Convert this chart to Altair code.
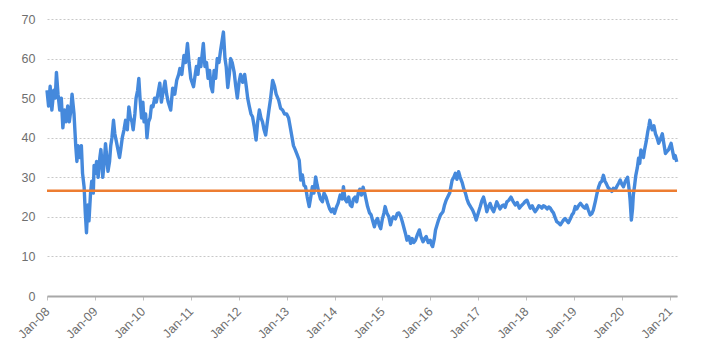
import altair as alt
import pandas as pd

# ---- data ----
d2008 = ["2008-01-01","2008-01-13","2008-01-25","2008-02-07","2008-02-22","2008-03-04","2008-03-13","2008-03-25",
         "2008-04-07","2008-04-19","2008-05-01","2008-05-13","2008-05-25","2008-06-07","2008-06-19","2008-07-01",
         "2008-07-10","2008-07-25","2008-08-07","2008-08-16","2008-08-25","2008-09-07","2008-09-19","2008-09-28",
         "2008-10-10","2008-10-19","2008-10-28","2008-11-07","2008-11-16","2008-11-28","2008-12-07","2008-12-19","2008-12-25"]
v2008 = [52,48,53,47,52,50,56.5,51,47,50,42.5,47,44,48,44,47,51,46,38,34,38,35,38,31,27.5,21,16,23,19,26,29,26,33]

d2009 = ["2009-01-04","2009-01-13","2009-01-25","2009-02-07","2009-02-15","2009-02-24","2009-03-01","2009-03-13",
         "2009-03-22","2009-04-01","2009-04-10","2009-04-22","2009-05-01","2009-05-10","2009-05-22","2009-06-01",
         "2009-06-13","2009-06-25","2009-07-07","2009-07-16","2009-07-28","2009-08-10","2009-08-22","2009-09-04",
         "2009-09-16","2009-09-28","2009-10-10","2009-10-19","2009-11-01","2009-11-10","2009-11-22","2009-12-01",
         "2009-12-10","2009-12-22"]
v2009 = [31,34,30,35,37,33,30,34,38.5,35,31.5,34,38,40,44.4,41,39,37,35,37,40,42,44.4,42,47.8,45,44,42,46,50,52,55,50,45]

d2010 = ["2010-01-01","2010-01-10","2010-01-22","2010-02-01","2010-02-13","2010-02-25","2010-03-07","2010-03-19",
         "2010-04-01","2010-04-13","2010-04-25","2010-05-10","2010-05-22","2010-06-01","2010-06-19","2010-07-01",
         "2010-07-13","2010-08-01","2010-08-16","2010-09-01","2010-09-16","2010-10-01","2010-10-10","2010-10-25",
         "2010-11-10","2010-11-22","2010-12-07","2010-12-19"]
v2010 = [49,44,46,40,44,45,48,47.8,50,49,51,53.8,49,51,54.3,51,49,47,52.5,51,54.5,56,57.5,56,60.8,59,63.8,59]

d2011 = ["2011-01-01","2011-01-22","2011-02-04","2011-02-13","2011-02-25","2011-03-07","2011-03-19","2011-04-07",
         "2011-04-19","2011-05-01","2011-05-13","2011-05-25","2011-06-04","2011-06-16","2011-06-28","2011-07-10",
         "2011-07-22","2011-08-04","2011-08-16","2011-09-07","2011-09-19","2011-09-28","2011-10-10","2011-10-22",
         "2011-11-01","2011-11-13","2011-11-28","2011-12-10","2011-12-22"]
v2011 = [55,52.9,56,58,56,60,58,63.8,58,59,55,57,53,51.6,57,55,60,59,62,66.7,60,58,52.7,56,60,59,56.5,53,50]

d2012 = ["2012-01-04","2012-01-16","2012-02-01","2012-02-16","2012-02-28","2012-03-10","2012-03-22","2012-04-04",
         "2012-04-16","2012-04-28","2012-05-13","2012-05-25","2012-06-07","2012-06-19","2012-07-01","2012-07-13",
         "2012-07-25","2012-08-07","2012-08-19","2012-09-01","2012-09-16","2012-10-01","2012-10-13","2012-11-01",
         "2012-11-16","2012-12-01","2012-12-16"]
v2012 = [54,56,54,56,53,50,48,46,45.3,43,39.4,44,47,45,44,42,40.7,44,47,50,54.5,53,51,49.5,47.4,47,46]

d2013 = ["2013-01-01","2013-01-16","2013-02-01","2013-02-22","2013-03-07","2013-03-19","2013-04-07","2013-04-19",
         "2013-05-01","2013-05-13","2013-05-25","2013-06-07","2013-06-22","2013-07-04","2013-07-16","2013-07-28",
         "2013-08-10","2013-08-22","2013-09-04","2013-09-16","2013-10-01","2013-10-13","2013-10-28","2013-11-10",
         "2013-11-25","2013-12-07","2013-12-19"]
v2013 = [46,45,42,38,37,36,34.3,29.3,30.6,28,27.6,25,22.6,25,27.6,26,30.1,28,26,24.5,23.8,26,25,23.5,22,21.3,22]

d2014 = ["2014-01-01","2014-01-16","2014-01-28","2014-02-13","2014-02-28","2014-03-10","2014-03-22","2014-04-04",
         "2014-04-19","2014-05-01","2014-05-13","2014-05-25","2014-06-07","2014-06-19","2014-07-01","2014-07-13",
         "2014-07-25","2014-08-07","2014-08-19","2014-09-01","2014-09-10","2014-09-25","2014-10-07","2014-10-19",
         "2014-11-01","2014-11-13","2014-11-25","2014-12-07","2014-12-19"]
v2014 = [20.9,22.5,23.4,25.5,24.5,27.6,24.5,23.8,25,23,22.6,24.5,25,23.8,26,27,25.5,27.5,26,24,22.6,21,20.5,19,
         17.5,19,19.6,18,17]

d2015 = ["2015-01-01","2015-01-13","2015-01-22","2015-02-04","2015-02-19","2015-03-04","2015-03-16","2015-03-25",
         "2015-04-10","2015-04-25","2015-05-07","2015-05-22","2015-06-04","2015-06-16","2015-06-28","2015-07-07",
         "2015-07-22","2015-08-04","2015-08-16","2015-08-28","2015-09-10","2015-09-25","2015-10-10","2015-10-22",
         "2015-11-07","2015-11-19","2015-12-01","2015-12-16"]
v2015 = [19.5,21,22.6,21,20,18,19.5,20,19.5,20.9,21,20,18.5,17,15.5,14.1,15,13.3,14.5,13.5,14.1,15.5,16.7,15,
         13.7,14.5,15,13.5]

d2016 = ["2016-01-01","2016-01-10","2016-01-19","2016-02-01","2016-02-10","2016-02-22","2016-03-04","2016-03-19",
         "2016-04-07","2016-04-19","2016-05-01","2016-05-13","2016-05-28","2016-06-16","2016-06-28","2016-07-10",
         "2016-07-22","2016-08-04","2016-08-16","2016-09-01","2016-09-13","2016-09-25","2016-10-07","2016-10-19",
         "2016-11-04","2016-11-19","2016-12-04","2016-12-16"]
v2016 = [14.1,13,12.5,14.5,16.7,18,19.2,20.5,21.3,23,24.2,25,26,29.3,30,31,29.5,31.4,30,28.6,27,26,24.5,23.4,
         22.5,21.7,20.5,19.2]

d2017 = ["2017-01-01","2017-01-16","2017-01-28","2017-02-10","2017-02-25","2017-03-07","2017-03-19","2017-04-01",
         "2017-04-16","2017-04-28","2017-05-10","2017-05-22","2017-06-04","2017-06-16","2017-07-01","2017-07-13",
         "2017-07-25","2017-08-07","2017-08-22","2017-09-07","2017-09-22","2017-10-10","2017-10-25","2017-11-10",
         "2017-11-25","2017-12-13","2017-12-25"]
v2017 = [21,22.6,24,25,23,21.3,22.5,23.4,22,21.3,22.5,23.8,22.8,22,22.8,23,22.4,23.8,24.2,25,24,23,23.6,22.2,
         22.8,23.4,23.9]

d2018 = ["2018-01-07","2018-01-19","2018-02-01","2018-02-16","2018-03-01","2018-03-10","2018-03-25","2018-04-07",
         "2018-04-19","2018-05-01","2018-05-13","2018-05-25","2018-06-10","2018-06-22","2018-07-04","2018-07-16",
         "2018-07-28","2018-08-10","2018-08-22","2018-09-07","2018-09-19","2018-10-01","2018-10-13","2018-10-25",
         "2018-11-07","2018-11-19","2018-12-04","2018-12-16","2018-12-28"]
v2018 = [24.2,23.2,22.2,22.8,21.8,21.3,22,22.8,22.6,22.2,22.8,22.6,22,22.5,22.2,21.5,21,19.8,18.8,18.4,18,18.6,
         19.2,19.6,19,18.5,19.5,20.5,21]

d2019 = ["2019-01-10","2019-01-22","2019-02-04","2019-02-19","2019-03-01","2019-03-13","2019-03-25","2019-04-07",
         "2019-04-19","2019-05-04","2019-05-16","2019-05-28","2019-06-13","2019-06-25","2019-07-07","2019-07-19",
         "2019-08-01","2019-08-13","2019-08-25","2019-09-04","2019-09-16","2019-10-01","2019-10-16","2019-10-28",
         "2019-11-13","2019-11-25","2019-12-07","2019-12-19"]
v2019 = [22.6,22,22.8,23.4,23,22.5,22.2,23,21.8,20.5,20.8,21.7,24,25.9,27.5,28.6,29,30.5,29,28.4,27.5,27,26.4,
         27.2,27,27.8,28.5,29.3]

d2020 = ["2020-01-01","2020-01-13","2020-01-25","2020-02-04","2020-02-13","2020-02-25","2020-03-04","2020-03-13",
         "2020-03-22","2020-03-28","2020-04-07","2020-04-16","2020-04-28","2020-05-07","2020-05-16","2020-05-25",
         "2020-06-04","2020-06-13","2020-06-22","2020-07-04","2020-07-16","2020-07-25","2020-08-01","2020-08-10",
         "2020-08-19","2020-09-01","2020-09-13","2020-09-25","2020-10-07","2020-10-19","2020-11-04","2020-11-16",
         "2020-11-28","2020-12-10","2020-12-22"]
v2020 = [28.2,27.6,28.8,29.5,30,27,24,19.2,22,25.5,28,30.5,32.5,34.8,33.5,36.9,35.5,35,37,39,41.5,43,44.4,43,
         42,43,41,40,38.6,39.5,41,38.5,36,36.5,37]

d2021 = ["2021-01-10","2021-01-22","2021-02-01","2021-02-10","2021-02-22"]
v2021 = [38.6,36.5,34.8,35.5,33.9]

average_level = [26.6]
year_ticks = list(range(2008, 2022))
y_ticks = [0, 10, 20, 30, 40, 50, 60, 70]

# ---- build table ----
dates = d2008 + d2009 + d2010 + d2011 + d2012 + d2013 + d2014 + d2015 + d2016 + d2017 + d2018 + d2019 + d2020 + d2021
vals = v2008 + v2009 + v2010 + v2011 + v2012 + v2013 + v2014 + v2015 + v2016 + v2017 + v2018 + v2019 + v2020 + v2021
df = pd.DataFrame({"date": dates, "value": vals})
avg_df = pd.DataFrame({"avg": average_level})

FONT = "Liberation Sans"
LABEL = "#6f6f6f"

x_scale = alt.Scale(type="utc",
                    domain=[alt.DateTime(year=2008, month=1, date=1, utc=True),
                            alt.DateTime(year=2021, month=2, date=24, utc=True)])
y_scale = alt.Scale(domain=[0, 70], nice=False, zero=True)

line = alt.Chart(df).mark_line(color="#4589DC", strokeWidth=3.4, strokeJoin="round").encode(
    x=alt.X("date:T", scale=x_scale, title=None),
    y=alt.Y("value:Q", scale=y_scale, title=None),
)

rule = alt.Chart(avg_df).mark_rule(color="#ED7D31", strokeWidth=2.6).encode(
    y=alt.Y("avg:Q", scale=y_scale, title=None),
)

chart = alt.layer(line, rule).properties(
    width=630, height=277,
    autosize=alt.AutoSizeParams(type="none"),
    padding={"left": 39, "top": 11, "right": 22, "bottom": 55},
    background="white",
).configure_view(
    stroke=None
).configure_axisX(
    values=[alt.DateTime(year=y, month=1, date=1, utc=True) for y in year_ticks],
    labelExpr="utcFormat(datum.value, '%b-%y')",
    labelAngle=-45, labelAlign="right", labelBaseline="middle",
    labelPadding=9, labelFont=FONT, labelFontSize=12.5, labelColor=LABEL,
    ticks=True, tickSize=4, tickColor="#c0c0c0",
    domain=True, domainColor="#a8a8a8", domainWidth=2,
    grid=False, labelOverlap=False,
).configure_axisY(
    values=y_ticks, ticks=False, domain=False,
    grid=True, gridColor="#c8c8c8", gridDash=[2, 2], gridWidth=1,
    labelFont=FONT, labelFontSize=12.5, labelColor=LABEL, labelPadding=12,
    labelOverlap=False,
)

chart.save("out.html", embed_options={"renderer": "svg", "actions": False})
